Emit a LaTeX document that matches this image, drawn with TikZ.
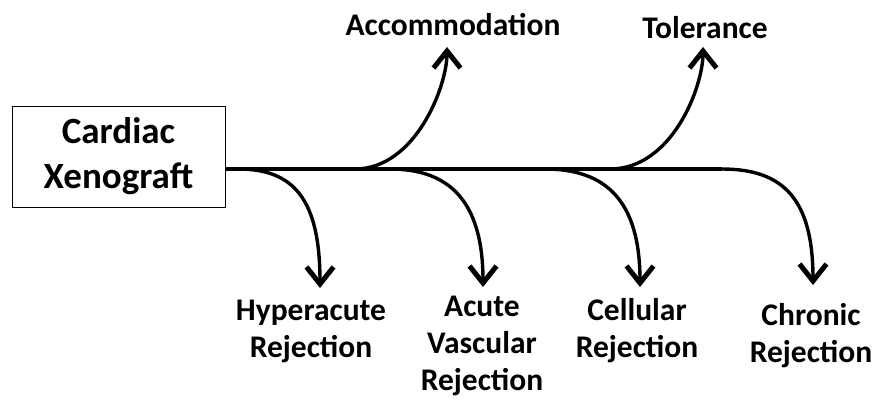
\documentclass[tikz,border=0pt]{standalone}
\usepackage{fontspec}
\setmainfont{Carlito}
\usetikzlibrary{arrows.meta}
\begin{document}
\begin{tikzpicture}[x=1pt,y=-1pt,
  lbl/.style={font=\bfseries\fontsize{31.5}{37}\selectfont, align=center, inner sep=0pt},
  graftbox/.style={draw, line width=0.9pt, minimum width=213pt, minimum height=101pt,
    inner sep=0pt, align=center, font=\bfseries\fontsize{37}{45}\selectfont},
  trunk/.style={line width=4pt},
  branch/.style={line width=3.4pt, -{Straight Barb[length=17pt,width=27pt,line width=5pt]}}]
\useasboundingbox (0,0) rectangle (874,400);

% source box
\node[graftbox] (graft) at (118.5,156.5) {Cardiac\\Xenograft};

% outcome labels
\node[lbl] (accom) at (453,25) {Accommodation};
\node[lbl] (toler) at (705,28) {Tolerance};
\node[lbl, anchor=north] (hyper) at (311,300) {Hyperacute\\Rejection};
\node[lbl, anchor=north] (avr) at (482,296) {Acute\\Vascular\\Rejection};
\node[lbl, anchor=north] (cell) at (637,298) {Cellular\\Rejection};
\node[lbl, anchor=north] (chron) at (811,303) {Chronic\\Rejection};

% branch points on the trunk and arrow tips
\coordinate (bHyper) at (238,169);
\coordinate (bAccom) at (355,169);
\coordinate (bAvr) at (390,169);
\coordinate (bCell) at (545,169);
\coordinate (bToler) at (610,169);
\coordinate (bChron) at (722,169);
\coordinate (tHyper) at (320,288);
\coordinate (tAccom) at (447,47);
\coordinate (tAvr) at (483,287);
\coordinate (tCell) at (640,287);
\coordinate (tToler) at (703,47);
\coordinate (tChron) at (813,285);

% trunk
\draw[trunk] (graft.east |- bHyper) -- (bChron);

% branches
\draw[branch] (graft.east |- bHyper) -- (bHyper) .. controls +(55,0) and +(0,-90) .. (tHyper);
\draw[branch] (bAccom) .. controls +(60,0) and +(0,40) .. (tAccom);
\draw[branch] (bAvr) .. controls +(60,0) and +(0,-85) .. (tAvr);
\draw[branch] (bCell) .. controls +(62,0) and +(0,-85) .. (tCell);
\draw[branch] (bToler) .. controls +(62,0) and +(0,40) .. (tToler);
\draw[branch] (bChron) .. controls +(62,0) and +(0,-85) .. (tChron);
\end{tikzpicture}
\end{document}
